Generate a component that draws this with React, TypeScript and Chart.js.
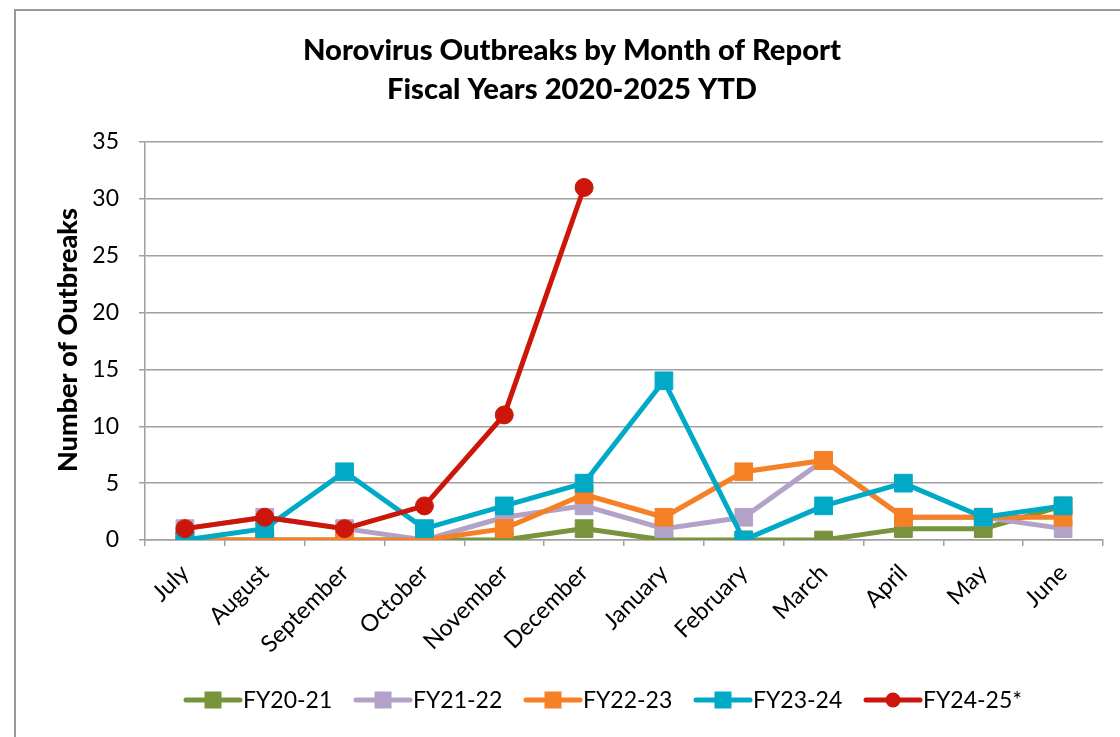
import React, { useEffect, useRef } from "react";
import { Chart, registerables } from "chart.js";

Chart.register(...registerables);

const months = ["July", "August", "September", "October", "November", "December", "January", "February", "March", "April", "May", "June"];
const fy2021 = [0, 0, 0, 0, 0, 1, 0, 0, 0, 1, 1, 3];
const fy2122 = [1, 2, 1, 0, 2, 3, 1, 2, 7, 2, 2, 1];
const fy2223 = [0, 0, 0, 0, 1, 4, 2, 6, 7, 2, 2, 2];
const fy2324 = [0, 1, 6, 1, 3, 5, 14, 0, 3, 5, 2, 3];
const fy2425 = [1, 2, 1, 3, 11, 31, null, null, null, null, null, null];
const seriesNames = ["FY20-21", "FY21-22", "FY22-23", "FY23-24", "FY24-25*"];
const seriesColors = ["#77933C", "#B3A2C7", "#F58025", "#00A9C6", "#CC1609"];
const seriesMarkers = ["rect", "rect", "rect", "rect", "circle"];
const titleLines = ["Norovirus Outbreaks by Month of Report", "Fiscal Years 2020-2025 YTD"];
const yTitle = "Number of Outbreaks";
const yTicks = [0, 5, 10, 15, 20, 25, 30, 35];

const FONT = "Lato, 'Open Sans', sans-serif";

const decorPlugin = {
  id: "decor",
  beforeDraw(chart: any) {
    const ctx = chart.ctx;
    ctx.save();
    ctx.fillStyle = "#ffffff";
    ctx.fillRect(0, 0, chart.width, chart.height);
    ctx.strokeStyle = "#9a9a9a";
    ctx.lineWidth = 2;
    ctx.strokeRect(15, 10, 1300, 900);
    ctx.restore();
  },
  afterDraw(chart: any) {
    const ctx = chart.ctx;
    ctx.save();
    ctx.fillStyle = "#000";
    ctx.textAlign = "center";
    ctx.textBaseline = "middle";
    ctx.font = `900 29.2px ${FONT}`;
    ctx.fillText(titleLines[0], 572, 51);
    ctx.fillText(titleLines[1], 572, 90);

    ctx.save();
    ctx.translate(68, 340);
    ctx.rotate(-Math.PI / 2);
    ctx.font = `900 27px ${FONT}`;
    ctx.fillText(yTitle, 0, 0);
    ctx.restore();

    // legend
    const startX = 186;
    const step = 170;
    const ly = 700;
    ctx.font = `23px ${FONT}`;
    ctx.textAlign = "left";
    seriesNames.forEach((name, i) => {
      const x0 = startX + i * step;
      ctx.strokeStyle = seriesColors[i];
      ctx.fillStyle = seriesColors[i];
      ctx.lineWidth = 5;
      ctx.lineCap = "round";
      ctx.beginPath();
      ctx.moveTo(x0, ly);
      ctx.lineTo(x0 + 54, ly);
      ctx.stroke();
      const cx = x0 + 27;
      if (seriesMarkers[i] === "circle") {
        ctx.beginPath();
        ctx.arc(cx, ly, 7.5, 0, Math.PI * 2);
        ctx.fill();
      } else {
        ctx.fillRect(cx - 8.5, ly - 8.5, 17, 17);
      }
      ctx.fillStyle = "#000";
      ctx.fillText(name, x0 + 57, ly + 1);
    });
    ctx.restore();
  },
};

export default function App() {
  const ref = useRef<HTMLCanvasElement | null>(null);
  useEffect(() => {
    if (!ref.current) return;
    const all = [fy2021, fy2122, fy2223, fy2324, fy2425];
    const chart = new Chart(ref.current, {
      type: "line",
      data: {
        labels: months,
        datasets: all.map((d, i) => ({
          label: seriesNames[i],
          data: d,
          borderColor: seriesColors[i],
          backgroundColor: seriesColors[i],
          borderWidth: 5,
          pointStyle: seriesMarkers[i] as any,
          pointRadius: seriesMarkers[i] === "circle" ? 9 : 12.5,
          pointBorderWidth: 1,
          pointBorderColor: seriesColors[i],
          pointBackgroundColor: seriesColors[i],
          tension: 0,
          spanGaps: false,
          order: 4 - i,
        })),
      },
      options: {
        responsive: false,
        animation: false,
        layout: { padding: { left: 15, top: 142, right: 17, bottom: 77 } },
        plugins: {
          legend: { display: false },
          title: { display: false },
          tooltip: { enabled: false },
        },
        scales: {
          x: {
            offset: true,
            grid: {
              offset: true,
              drawOnChartArea: false,
              drawTicks: true,
              tickLength: 6,
              color: "#a0a0a0",
              lineWidth: 1.5,
            },
            border: { display: true, color: "#a0a0a0", width: 1.5 },
            ticks: {
              minRotation: 45,
              maxRotation: 45,
              autoSkip: false,
              padding: 13,
              color: "#000",
              font: { family: FONT, size: 23.5 },
            },
            afterFit(scale: any) {
              scale.height = 120;
            },
          },
          y: {
            min: 0,
            max: 35,
            afterBuildTicks(scale: any) {
              scale.ticks = yTicks.map((v) => ({ value: v }));
            },
            grid: {
              color: "#a0a0a0",
              lineWidth: 1.5,
              drawTicks: true,
              tickLength: 6,
            },
            border: { display: true, color: "#a0a0a0", width: 1.5 },
            ticks: {
              padding: 20,
              color: "#000",
              font: { family: FONT, size: 23 },
            },
            afterFit(scale: any) {
              scale.width = 130;
            },
          },
        },
      },
      plugins: [decorPlugin],
    });
    return () => chart.destroy();
  }, []);
  return (
    <div style={{ position: "fixed", left: 0, top: 0, width: 1120, height: 737, background: "#fff" }}>
      <canvas ref={ref} width={1120} height={737} style={{ display: "block" }} />
    </div>
  );
}
